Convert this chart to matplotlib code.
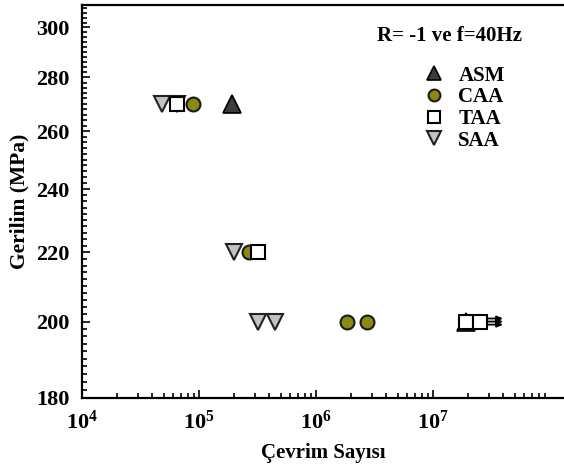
import matplotlib
matplotlib.use("Agg")
import matplotlib.pyplot as plt
from matplotlib.ticker import FixedLocator, MultipleLocator, NullFormatter, LogLocator
from matplotlib.text import OffsetFrom

plt.rcParams['font.family'] = ['Liberation Serif', 'DejaVu Serif']
plt.rcParams['font.weight'] = 'bold'
plt.rcParams['mathtext.fontset'] = 'custom'
plt.rcParams['mathtext.rm'] = 'Liberation Serif:bold'
plt.rcParams['mathtext.bf'] = 'Liberation Serif:bold'

# cycles to failure (N) and stress amplitude (MPa) for each series
asm_n = [1.9e5, 1.9e7]
asm_s = [270, 200]
caa_n = [8.9e4, 2.7e5, 1.84e6, 2.73e6]
caa_s = [270, 220, 200, 200]
taa_n = [6.5e4, 3.2e5, 1.9e7, 2.5e7]
taa_s = [270, 220, 200, 200]
saa_n = [4.8e4, 6.5e4, 2.0e5, 3.2e5, 4.5e5]
saa_s = [270, 270, 220, 200, 200]

# run-outs (no failure)
runout_n = [2.5e7, 2.5e7, 2.5e7]
runout_s = [200, 200, 200]

y_ticks = [180, 200, 220, 240, 260, 280, 300]
x_ticks = [1e4, 1e5, 1e6, 1e7]
x_labels = [r'$\mathbf{10^{4}}$', r'$\mathbf{10^{5}}$', r'$\mathbf{10^{6}}$', r'$\mathbf{10^{7}}$']

fig = plt.figure(figsize=(5.64, 4.67), dpi=100)
ax = fig.add_axes([82/564, 69/467, 482/564, 393/467])
ax.set_xscale('log')
ax.set_yscale('log')
ax.set_xlim(1e4, 10 ** (4 + 482/117))
ax.set_ylim(180, 309.4)

ax.plot(asm_n, asm_s, ls='none', marker='^', ms=12.5, mfc='#3c3c3c', mec='black', mew=1.2,
        label='ASM', zorder=3)
ax.plot(saa_n, saa_s, ls='none', marker='v', ms=12, mfc='#c2c2c2', mec='#222222', mew=1.5,
        label='SAA', zorder=4)
ax.plot(caa_n, caa_s, ls='none', marker='o', ms=10, mfc='#8a8a10', mec='#1a1a1a', mew=1.5,
        label='CAA', zorder=5)
ax.plot(taa_n, taa_s, ls='none', marker='s', ms=9.5, mfc='white', mec='black', mew=1.5,
        label='TAA', zorder=6)

for n, s, dy in zip(runout_n, runout_s, [2.2, 0, -2.2]):
    ref = OffsetFrom(ax.transData, (n, s), unit='points')
    ax.annotate('', xy=(17, dy), xycoords=ref, xytext=(6, dy), textcoords=ref,
                arrowprops=dict(arrowstyle='-|>,head_length=0.35,head_width=0.15',
                                color='black', lw=1.3, shrinkA=0, shrinkB=0))

ax.yaxis.set_major_locator(FixedLocator(y_ticks))
ax.yaxis.set_minor_locator(MultipleLocator(2))
ax.yaxis.set_minor_formatter(NullFormatter())
ax.set_yticklabels([str(v) for v in y_ticks])
ax.xaxis.set_major_locator(FixedLocator(x_ticks))
ax.set_xticklabels(x_labels)
ax.xaxis.set_minor_locator(LogLocator(base=10, subs=range(2, 10)))
ax.xaxis.set_minor_formatter(NullFormatter())

ax.tick_params(which='both', direction='in', top=False, right=False, width=1.2)
ax.tick_params(which='major', length=6, labelsize=16)
ax.tick_params(axis='y', which='major', pad=9)
ax.tick_params(axis='x', which='major', pad=9)
ax.tick_params(which='minor', length=3.5)
for sp in ['left', 'bottom', 'top']:
    ax.spines[sp].set_linewidth(1.6)
ax.spines['right'].set_visible(False)

ax.set_xlabel('Çevrim Sayısı', fontsize=15, fontweight='bold', labelpad=7)
ax.set_ylabel('Gerilim (MPa)', fontsize=15.5, fontweight='bold', labelpad=5)

ax.text(0.762, 0.921, 'R= -1 ve f=40Hz', transform=ax.transAxes, ha='center', va='center',
        fontsize=15, fontweight='bold')

handles, labels = ax.get_legend_handles_labels()
order = ['ASM', 'CAA', 'TAA', 'SAA']
hl = {l: h for h, l in zip(handles, labels)}
leg = ax.legend([hl[k] for k in order], order, loc='upper left', bbox_to_anchor=(0.69, 0.872),
                frameon=False, fontsize=15, handlelength=0.9, handletextpad=0.7,
                labelspacing=0.08, borderpad=0, markerscale=0.85)

fig.savefig('out.png', dpi=100)
